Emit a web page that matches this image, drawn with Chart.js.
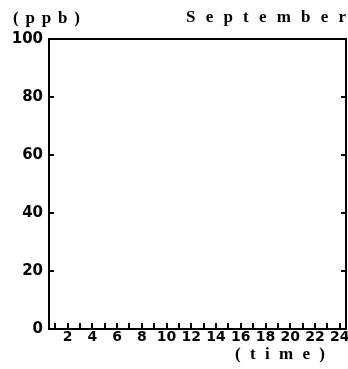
<!DOCTYPE html>
<html>
<head>
<meta charset="utf-8">
<script src="https://cdn.jsdelivr.net/npm/chart.js@4"></script>
<style>
  html, body { margin: 0; padding: 0; background: #fff; }
  #wrap { width: 348px; height: 369px; }
</style>
</head>
<body>
<div id="wrap"><canvas id="myChart" width="348" height="369"></canvas></div>
<script>
// hours of the day on the x axis
const hours = [1, 2, 3, 4, 5, 6, 7, 8, 9, 10, 11, 12, 13, 14, 15, 16, 17, 18, 19, 20, 21, 22, 23, 24];
// ppb readings for September (the panel has no plotted values)
const ppbValues = [];
const yTicks = [0, 20, 40, 60, 80, 100];
const monthLabel = "September";
const unitLabel = "(ppb)";
const xLabel = "(time)";

// draw a string spread out so it spans a given width
function spreadText(ctx, text, x0, x1, y) {
  ctx.letterSpacing = "0px";
  const w = ctx.measureText(text).width;
  const gap = (x1 - x0 - w) / (text.length - 1);
  ctx.letterSpacing = gap + "px";
  ctx.fillText(text, x0, y);
  ctx.letterSpacing = "0px";
}

// frame, inward ticks and the header texts
const frame = {
  id: "frame",
  afterDraw(chart) {
    const { ctx, chartArea: { left, top, right, bottom }, scales: { x, y } } = chart;
    ctx.save();
    ctx.strokeStyle = "#000";
    ctx.lineWidth = 2;
    ctx.strokeRect(left, top, right - left, bottom - top);

    ctx.beginPath();
    hours.forEach((h) => {
      const px = Math.round(x.getPixelForValue(h));
      ctx.moveTo(px, bottom);
      ctx.lineTo(px, bottom - 6);
    });
    yTicks.slice(1, -1).forEach((v) => {
      const py = Math.round(y.getPixelForValue(v));
      ctx.moveTo(left, py);
      ctx.lineTo(left + 5, py);
      ctx.moveTo(right, py);
      ctx.lineTo(right - 5, py);
    });
    ctx.stroke();

    ctx.fillStyle = "#000";
    ctx.font = "bold 17px 'Liberation Serif'";
    ctx.textBaseline = "middle";
    ctx.textAlign = "left";
    spreadText(ctx, unitLabel, 13, 80, 19);
    spreadText(ctx, monthLabel, 186, 346, 18);
    spreadText(ctx, xLabel, 235, 325, 355);
    ctx.restore();
  },
};

const config = {
  type: "scatter",
  data: {
    datasets: [
      {
        label: "ppb",
        data: ppbValues.map((v, i) => ({ x: hours[i], y: v })),
        pointRadius: 2,
        backgroundColor: "#000",
        borderColor: "#000",
      },
    ],
  },
  options: {
    responsive: false,
    animation: false,
    layout: { padding: { top: 39, right: 2, left: 0, bottom: 0 } },
    plugins: {
      legend: { display: false },
      tooltip: { enabled: false },
    },
    scales: {
      x: {
        type: "linear",
        min: 0.5,
        max: 24.5,
        afterBuildTicks: (scale) => {
          scale.ticks = hours.map((h) => ({ value: h }));
        },
        afterFit: (scale) => {
          scale.height = 40;
          scale.paddingRight = 0;
          scale.paddingLeft = 0;
        },
        grid: { display: false, drawTicks: false },
        border: { display: false },
        ticks: {
          autoSkip: false,
          maxRotation: 0,
          padding: 0,
          color: "#000",
          font: { family: "DejaVu Sans", size: 14, weight: "bold" },
          callback: (v) => (v % 2 === 0 ? String(v) : ""),
        },
      },
      y: {
        min: 0,
        max: 100,
        afterBuildTicks: (scale) => {
          scale.ticks = yTicks.map((v) => ({ value: v }));
        },
        afterFit: (scale) => {
          scale.width = 49;
        },
        grid: { display: false, drawTicks: false },
        border: { display: false },
        ticks: {
          padding: 6,
          color: "#000",
          font: { family: "DejaVu Sans", size: 15, weight: "bold" },
        },
      },
    },
  },
  plugins: [frame],
};

const myChart = new Chart(document.getElementById("myChart"), config);
</script>
</body>
</html>
